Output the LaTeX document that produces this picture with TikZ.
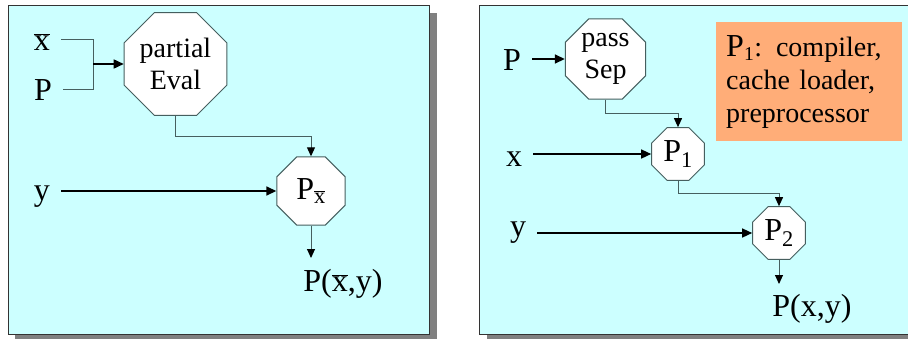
\documentclass[tikz,border=0pt]{standalone}
\usepackage{fontspec}
\setmainfont{Liberation Serif}
\usepackage{xcolor}
\usetikzlibrary{arrows.meta,shapes.geometric}

\definecolor{panelbg}{RGB}{204,255,255}
\definecolor{notebg}{RGB}{255,173,120}
\definecolor{octline}{RGB}{70,95,95}
\definecolor{shadowgray}{RGB}{128,128,128}
\newcommand\xbar{$\overline{\hbox{x}}$}

\begin{document}
\begin{tikzpicture}[
  x=1pt, y=-1pt,
  panel/.style={fill=panelbg, draw=black!80, line width=1pt},
  shade/.style={fill=shadowgray},
  oct/.style={draw=octline, fill=white, line width=1pt, regular polygon, regular polygon sides=8, inner sep=0pt, align=center, font=\fontsize{28}{32}\selectfont},
  lbl/.style={anchor=base, inner xsep=11pt, inner ysep=0pt, font=\fontsize{32}{36}\selectfont},
  outlbl/.style={anchor=base, inner sep=0pt, font=\fontsize{32}{36}\selectfont},
  note/.style={fill=notebg, anchor=north west, minimum width=186pt, minimum height=119pt, text width=166pt, align=left, inner xsep=10pt, font=\fontsize{28}{33}\selectfont},
  arrow/.style={-{Triangle[length=10pt,width=9pt]}, line width=1.5pt},
  link/.style={draw=octline, line width=1pt},
  linkarrow/.style={link, -{Triangle[length=9pt,width=8pt,color=black]}}
]
\useasboundingbox (0,0) rectangle (908,338);
\clip (0,0) rectangle (908,338);

% left panel
\fill[shade] (15,13) rectangle (437,342);
\draw[panel] (8,5) rectangle (429,334);

\node[lbl] (xb) at (42,50) {\xbar};
\node[lbl] (pin) at (43,100) {P};
\node[lbl] (yin) at (42,200) {y};
\node[oct, minimum size=111pt] (peval) at (175.5,64) {partial\\Eval};
\node[oct, minimum size=74pt] (px) at (311,191) {\fontsize{32}{36}\selectfont P\textsubscript{\xbar}};
\node[outlbl] (pxy) at (343,291) {P(\xbar,y)};
\coordinate (jx) at (93,39);
\coordinate (jp) at (93,89);

\draw[link] (xb.east |- jx) -- (jx) -- (jp) -- (pin.east |- jp);
\draw[arrow] (jx |- peval.west) -- (peval.west);
\draw[linkarrow] (peval.south) -- ++(0,21) -| (px.north);
\draw[arrow] (yin.east |- px.west) -- (px.west);
\draw[linkarrow] (px.south) -- (px.south |- 0,258);

% right panel
\fill[shade] (487,13) rectangle (916,342);
\draw[panel] (479,5) rectangle (914,334);

\node[lbl] (pin2) at (512,70) {P};
\node[lbl] (xin2) at (514,166) {x};
\node[lbl] (yin2) at (518,236) {y};
\node[oct, minimum size=87pt] (psep) at (605.5,59) {pass\\Sep};
\node[oct, minimum size=57pt] (pone) at (678,154) {\fontsize{32}{36}\selectfont P\textsubscript{1}};
\node[oct, minimum size=57pt] (ptwo) at (779,233) {\fontsize{32}{36}\selectfont P\textsubscript{2}};
\node[outlbl] (pxy2) at (812,316) {P(x,y)};
\node[note] (notes) at (716,22) {{\fontsize{32}{33}\selectfont P}\textsubscript{1}: compiler,\\cache loader,\\preprocessor};

\draw[arrow] (pin2.east |- psep.west) -- (psep.west);
\draw[linkarrow] (psep.south) -- ++(0,14) -| (pone.north);
\draw[arrow] (xin2.east |- pone.west) -- (pone.west);
\draw[linkarrow] (pone.south) -- ++(0,13) -| (ptwo.north);
\draw[arrow] (yin2.east |- ptwo.west) -- (ptwo.west);
\draw[linkarrow] (ptwo.south) -- (ptwo.south |- 0,284);
\end{tikzpicture}
\end{document}
